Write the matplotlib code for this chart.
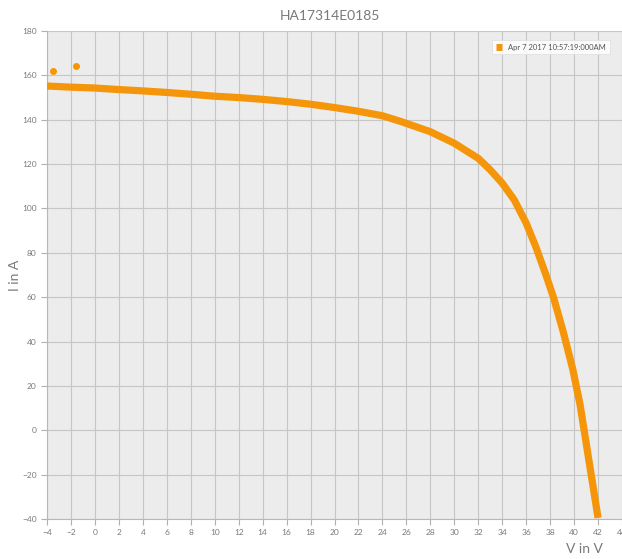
import numpy as np
import matplotlib.pyplot as plt

## I-V curve
volts = [-4, -2, 0, 2, 4, 6, 8, 10, 12, 14, 16, 18, 20, 22, 24, 25.6, 28,
         30, 32, 33, 34, 35, 36, 36.8, 37.6, 38.3, 39.1, 39.9, 40.5, 41.05,
         41.5, 42.0]
amps = [155.2, 154.7, 154.3, 153.6, 153.0, 152.3, 151.5, 150.6, 150.0, 149.2,
        148.2, 147.0, 145.5, 143.8, 141.8, 139.1, 134.6, 129.4, 122.6, 117.4,
        111.4, 103.9, 93.4, 82.8, 70.8, 59.6, 44.3, 27.3, 11.5, -7.2, -22.5,
        -39.5]
## two stray points above the curve
out_v = [-3.5, -1.6]
out_i = [162.1, 164.4]

series_name = 'Apr 7 2017 10:57:19:000AM'
title = 'HA17314E0185'
xticks = np.arange(-4, 45, 2)
yticks = np.arange(-40, 181, 20)

orange = '#f5960a'
txt = '#7a7a7a'

plt.rcParams['font.family'] = ['Lato', 'DejaVu Sans']

fig = plt.figure(figsize=(6.22, 5.59), dpi=100)
ax = fig.add_axes([0.0756, 0.0716, 0.9244, 0.8729])
ax.set_facecolor('#ececec')

ax.plot(volts, amps, color=orange, lw=5.2, solid_capstyle='butt',
        solid_joinstyle='round', label=series_name, zorder=3)
ax.plot(out_v, out_i, 'o', color=orange, ms=4, zorder=3)

ax.set_xlim(-4, 44)
ax.set_ylim(-40, 180)
ax.set_xticks(xticks)
ax.set_yticks(yticks)
ax.grid(True, color='#c6c6c6', lw=0.8)
ax.set_axisbelow(True)
ax.tick_params(colors='#b0b0b0', labelcolor=txt, labelsize=6, length=4, width=0.8)
for s in ['top', 'right']:
    ax.spines[s].set_visible(False)
for s in ['left', 'bottom']:
    ax.spines[s].set_color('#b8b8b8')

fig.text(0.53, 0.972, title, ha='center', va='center', fontsize=10, color=txt)
fig.text(0.024, 0.508, 'I in A', rotation=90, ha='center', va='center',
         fontsize=10, color=txt)
fig.text(0.94, 0.018, 'V in V', ha='center', va='center', fontsize=10, color=txt)

leg = ax.legend(loc='upper right', bbox_to_anchor=(0.985, 0.99), fontsize=5.5,
                frameon=True, fancybox=False, handlelength=0.8, handleheight=0.8,
                borderpad=0.5, labelcolor='#555555')
leg.get_frame().set_edgecolor('#dddddd')
leg.get_frame().set_linewidth(0.6)
for h in leg.legend_handles:
    h.set_linewidth(5)

plt.savefig('out.png', dpi=100)
